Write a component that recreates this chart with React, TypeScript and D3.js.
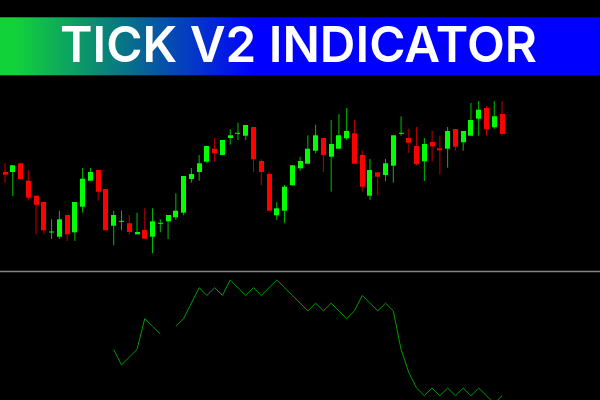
import React from "react";
import * as d3 from "d3";

const W = 600;
const H = 400;

const title = "TICK V2 INDICATOR";

// OHLC values per bar (price units)
const opens = [128, 128, 136.7, 119.3, 104.3, 98, 68, 63.3, 85, 67.7, 93.3, 119.3, 130, 111, 74.3, 78.7, 76.7, 65.7, 70, 63.3, 76.7, 78.7, 82.7, 87.3, 121, 128, 138.3, 151.3, 145, 162, 166.7, 164.3, 173, 139, 126, 84.7, 89.3, 114.7, 131.7, 136.3, 149.3, 162, 143.3, 151.3, 161.7, 166.7, 145, 104.3, 127.7, 125, 134.3, 166.7, 162, 154, 138.7, 158, 151.7, 151.3, 171, 157.7, 164.3, 181.3, 192, 172.7, 186];
const highs = [136.7, 134.7, 136.7, 130, 104.3, 98, 80.7, 89.3, 85, 98, 132, 132, 130, 111, 89.3, 89.3, 85, 87.3, 91.7, 91.7, 80.7, 85, 106.7, 124, 132, 145, 154, 162, 160, 170.7, 177.3, 175, 173, 140.7, 128, 98, 115, 134.7, 143.3, 164.7, 175.3, 162, 180, 186, 192, 180, 149.7, 141, 127.7, 141, 164.7, 183.7, 171.3, 173, 162, 169, 164.3, 173, 171, 169, 197, 199, 194, 199, 199];
const lows = [117.3, 104, 121, 99.3, 65.7, 65.7, 61, 61, 59, 59, 87.3, 119.3, 99.3, 69.7, 54.7, 69.7, 65.7, 65.7, 61.3, 46.7, 67.7, 61, 80, 84.7, 117.3, 119.3, 136.7, 138.3, 145, 155.3, 160, 160, 128, 114.7, 89.3, 80, 76.7, 114.7, 129.3, 136.3, 146.7, 128, 108.3, 151.3, 160, 136.3, 108.3, 100, 104.3, 119, 117.3, 164.3, 147, 134.3, 119, 138.3, 125.7, 132.3, 149.3, 149.3, 164.3, 164.3, 164.3, 171, 164.3];
const closes = [125.3, 134.7, 121, 102.3, 95.3, 69.7, 68.5, 80.7, 65.7, 98, 121.3, 128, 108.3, 69.7, 85, 79.2, 68, 68, 61.3, 78.7, 77.2, 85, 89.3, 124, 126, 136.7, 154, 146.7, 160, 164.7, 167.2, 175, 140.7, 128, 89.3, 91.7, 113.3, 134.7, 139, 151.3, 164.7, 145, 156, 164.7, 169, 136.3, 113.3, 130, 123.3, 136.7, 164.7, 167.2, 157.3, 136, 156, 153.7, 149.7, 169, 153.3, 169, 180, 190.3, 170.7, 183.7, 166];

// Tick indicator values per bar (null = no value)
const tickValues: (number | null)[] = [
  null, null, null, null, null, null, null, null, null, null, null, null, null, null,
  7, 5, 6, 7, 11, 10, 9, null, 10, 11, 13, 15, 14, 15, 14, 16, 15, 14, 15, 14, 15, 16,
  15, 14, 13, 12, 13, 12, 13, 12, 11, 12, 14, 13, 12, 13, 12, 7, 4, 2, 1, 2, 1, 2, 1,
  2, 1, 2, 1, 0, 1,
];

const BULL = "#00ff00";
const BEAR = "#ff0000";

export default function App() {
  const n = opens.length;
  const x = d3.scaleLinear().domain([0, n - 1]).range([5, 502]);
  const y = d3.scaleLinear().domain([40, 205]).range([260, 95]);
  const yi = d3.scaleLinear().domain([0, 16]).range([403.5, 280]);

  const line = d3
    .line<number | null>()
    .defined((d) => d != null)
    .x((_, i) => x(i))
    .y((d) => yi(d as number));

  const bodyW = 5;

  return (
    <svg
      width={W}
      height={H}
      style={{ position: "fixed", left: 0, top: 0, background: "#000", display: "block" }}
    >
      <defs>
        <linearGradient id="bannerGrad" gradientUnits="userSpaceOnUse" x1={15} y1={0} x2={255} y2={0}>
          <stop offset="0%" stopColor="#12d23a" />
          <stop offset="45%" stopColor="#087585" />
          <stop offset="75%" stopColor="#0336c8" />
          <stop offset="100%" stopColor="#0000ff" />
        </linearGradient>
        <clipPath id="clipAll">
          <rect x={0} y={0} width={W} height={H} />
        </clipPath>
      </defs>
      <rect x={0} y={0} width={W} height={H} fill="#000" />
      <rect x={0} y={17.3} width={W} height={58} fill="url(#bannerGrad)" />
      <text
        x={298.5}
        y={61.7}
        textAnchor="middle"
        fill="#ffffff"
        fontFamily="Inter, 'Open Sans', sans-serif"
        fontWeight={600}
        fontSize={50}
        textLength={477}
        lengthAdjust="spacingAndGlyphs"
      >
        {title}
      </text>

      {/* candles */}
      <g>
        {opens.map((o, i) => {
          const c = closes[i];
          const bull = c >= o;
          const col = bull ? BULL : BEAR;
          const cx = x(i);
          const top = y(Math.max(o, c));
          const bot = y(Math.min(o, c));
          const h = Math.max(1, bot - top);
          return (
            <g key={i}>
              <line
                x1={cx}
                x2={cx}
                y1={y(highs[i])}
                y2={y(lows[i])}
                stroke={col}
                strokeWidth={1}
                strokeOpacity={0.75}
              />
              <rect
                x={Math.round(cx - bodyW / 2)}
                y={top}
                width={bodyW}
                height={h}
                fill={col}
              />
            </g>
          );
        })}
      </g>

      {/* separator */}
      <line x1={0} x2={W} y1={271.6} y2={271.6} stroke="#858585" strokeWidth={1.5} />

      {/* tick indicator */}
      <path
        d={line(tickValues) || ""}
        fill="none"
        stroke="#009c00"
        strokeWidth={1}
        clipPath="url(#clipAll)"
      />
    </svg>
  );
}
